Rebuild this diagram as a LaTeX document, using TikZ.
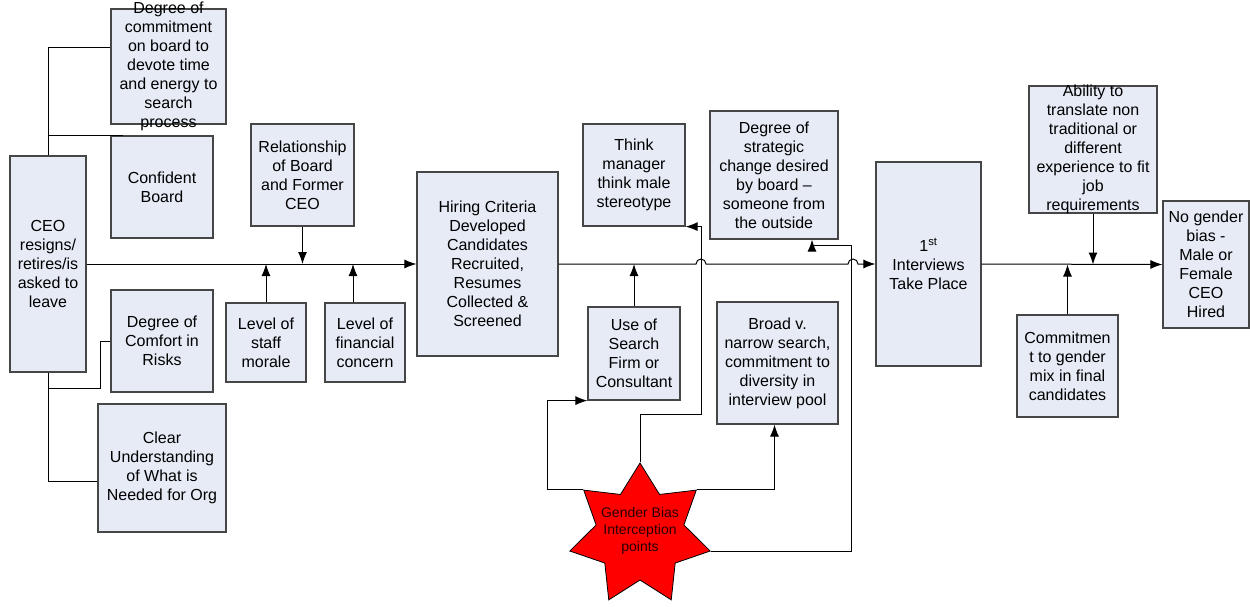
\documentclass[tikz,border=0pt]{standalone}
\usepackage{fontspec}
\setmainfont{Liberation Sans}
\usetikzlibrary{shapes.geometric, arrows.meta}
\tikzset{>={Latex[length=12pt,width=9pt]}}
\tikzset{every text node part/.style={align=center}}
\definecolor{boxfill}{RGB}{230,235,246}
\definecolor{boxline}{RGB}{70,70,70}
\definecolor{starred}{RGB}{255,0,0}
\definecolor{startext}{RGB}{40,0,0}
\tikzset{
	factor/.style={draw=boxline, fill=boxfill, line width=1.2pt, inner sep=0pt,
	               font=\fontsize{16}{19}\selectfont},
	factortext/.style={inner sep=0pt, font=\fontsize{16}{19}\selectfont},
	dims/.style 2 args={minimum width=#1, minimum height=#2},
	flow/.style={line width=1pt}
}

\begin{document}
\begin{tikzpicture}[x=1pt, y=-1pt]
\useasboundingbox (0,0) rectangle (1250,607);

% Start
\node[factor, dims={76}{216}] (ceo) at (48,264) {CEO\\resigns/\\retires/is\\asked to\\leave};

% Board factors
\node[factor, dims={115}{115}] (commit) at (168.5,66.5) {};
\node[factortext] (committxt) at (commit) {Degree of\\commitment\\on board to\\devote time\\and energy to\\search\\process};
\node[factor, dims={102}{102}] (confident) at (162,187) {Confident\\Board};
\node[factor, dims={102}{102}] (comfort) at (162,341) {Degree of\\Comfort in\\Risks};
\node[factor, dims={128}{128}] (clearorg) at (162,468) {Clear\\Understanding\\of What is\\Needed for Org};

\node[factor, dims={103}{102}] (relation) at (302.5,175) {Relationship\\of Board\\and Former\\CEO};
\node[factor, dims={80}{79}] (morale) at (266,342.5) {Level of\\staff\\morale};
\node[factor, dims={80}{79}] (finance) at (365,342.5) {Level of\\financial\\concern};

% Search
\node[factor, dims={141}{184}] (hiring) at (487.5,264) {Hiring Criteria\\Developed\\Candidates\\Recruited,\\Resumes\\Collected \&\\Screened};
\node[factor, dims={102}{102}] (stereo) at (634,175) {Think\\manager\\think male\\stereotype};
\node[factor, dims={92}{93}] (searchfirm) at (634,353.5) {Use of\\Search\\Firm or\\Consultant};
\node[factor, dims={128}{128}] (strategic) at (774,175) {Degree of\\strategic\\change desired\\by board --\\someone from\\the outside};
\node[factor, dims={121}{122}] (broad) at (777.5,363) {Broad v.\\narrow search,\\commitment to\\diversity in\\interview pool};

% Interviews and hire
\node[factor, dims={105}{204}] (interviews) at (928.5,264) {1\textsuperscript{st}\\Interviews\\Take Place};
\node[factor, dims={128}{127}] (translate) at (1093,149.5) {};
\node[factortext] (translatetxt) at (translate) {Ability to\\translate non\\traditional or\\different\\experience to fit\\job\\requirements};
\node[factor, dims={101}{102}] (gendermix) at (1067.5,366) {Commitmen\\t to gender\\mix in final\\candidates};
\node[factor, dims={86}{127}] (hired) at (1206,264.5) {No gender\\bias -\\Male or\\Female\\CEO\\Hired};

% Interception star
\node[star, star points=7, star point ratio=1.6, minimum size=144, inner sep=0pt,
      draw=black, fill=starred, line width=0.8pt] (bias) at (640,535) {};
\node[inner sep=0pt, text=startext, font=\fontsize{14}{17}\selectfont] (biastxt) at (640,531) {Gender Bias\\Interception\\points};

% Main flow
\draw[flow, ->] (ceo.east) -- (hiring.west);
\draw[flow, ->] (hiring.east) -- (696,264) arc[start angle=180, end angle=360, radius=5]
	-- (848,264) arc[start angle=180, end angle=360, radius=5] -- (interviews.west);
\draw[flow, ->] (interviews.east) -- (hired.west);

% Board links
\draw[flow] (ceo.north) |- (commit.west |- 0,48);
\draw[flow] (ceo.north |- confident.north) -- ([xshift=13]confident.north west);
\draw[flow] (ceo.south) -- ++(0,16) -| ([xshift=-10]comfort.west) -- (comfort.west);
\draw[flow] (ceo.south) |- (clearorg.west |- 0,481);

% Factors on the line
\draw[flow, ->] (relation.south) -- (relation.south |- ceo.east);
\draw[flow, ->] (morale.north) -- (morale.north |- ceo.east);
\draw[flow, ->] ([xshift=-12]finance.north) -- ([xshift=-12]finance.north |- ceo.east);
\draw[flow, ->] (searchfirm.north) -- (searchfirm.north |- hiring.east);
\draw[flow, ->] (translate.south) -- (translate.south |- hired.west);
\draw[flow, ->] (gendermix.north) -- (gendermix.north |- hired.west);

% Interception points
\draw[flow, ->] (bias.outer point 2) -- ++(-36,0) |- (searchfirm.south west);
\draw[flow, ->] (bias.outer point 1) -- ++(0,-48) -- ++(61,0) |- (stereo.south east);
\draw[flow, ->] (bias.outer point 7) -| ([xshift=-3]broad.south);
\draw[flow, ->] (bias.outer point 6) -- ++(141,0) -- ++(0,-306) -| ([xshift=38]strategic.south);

\end{tikzpicture}
\end{document}
